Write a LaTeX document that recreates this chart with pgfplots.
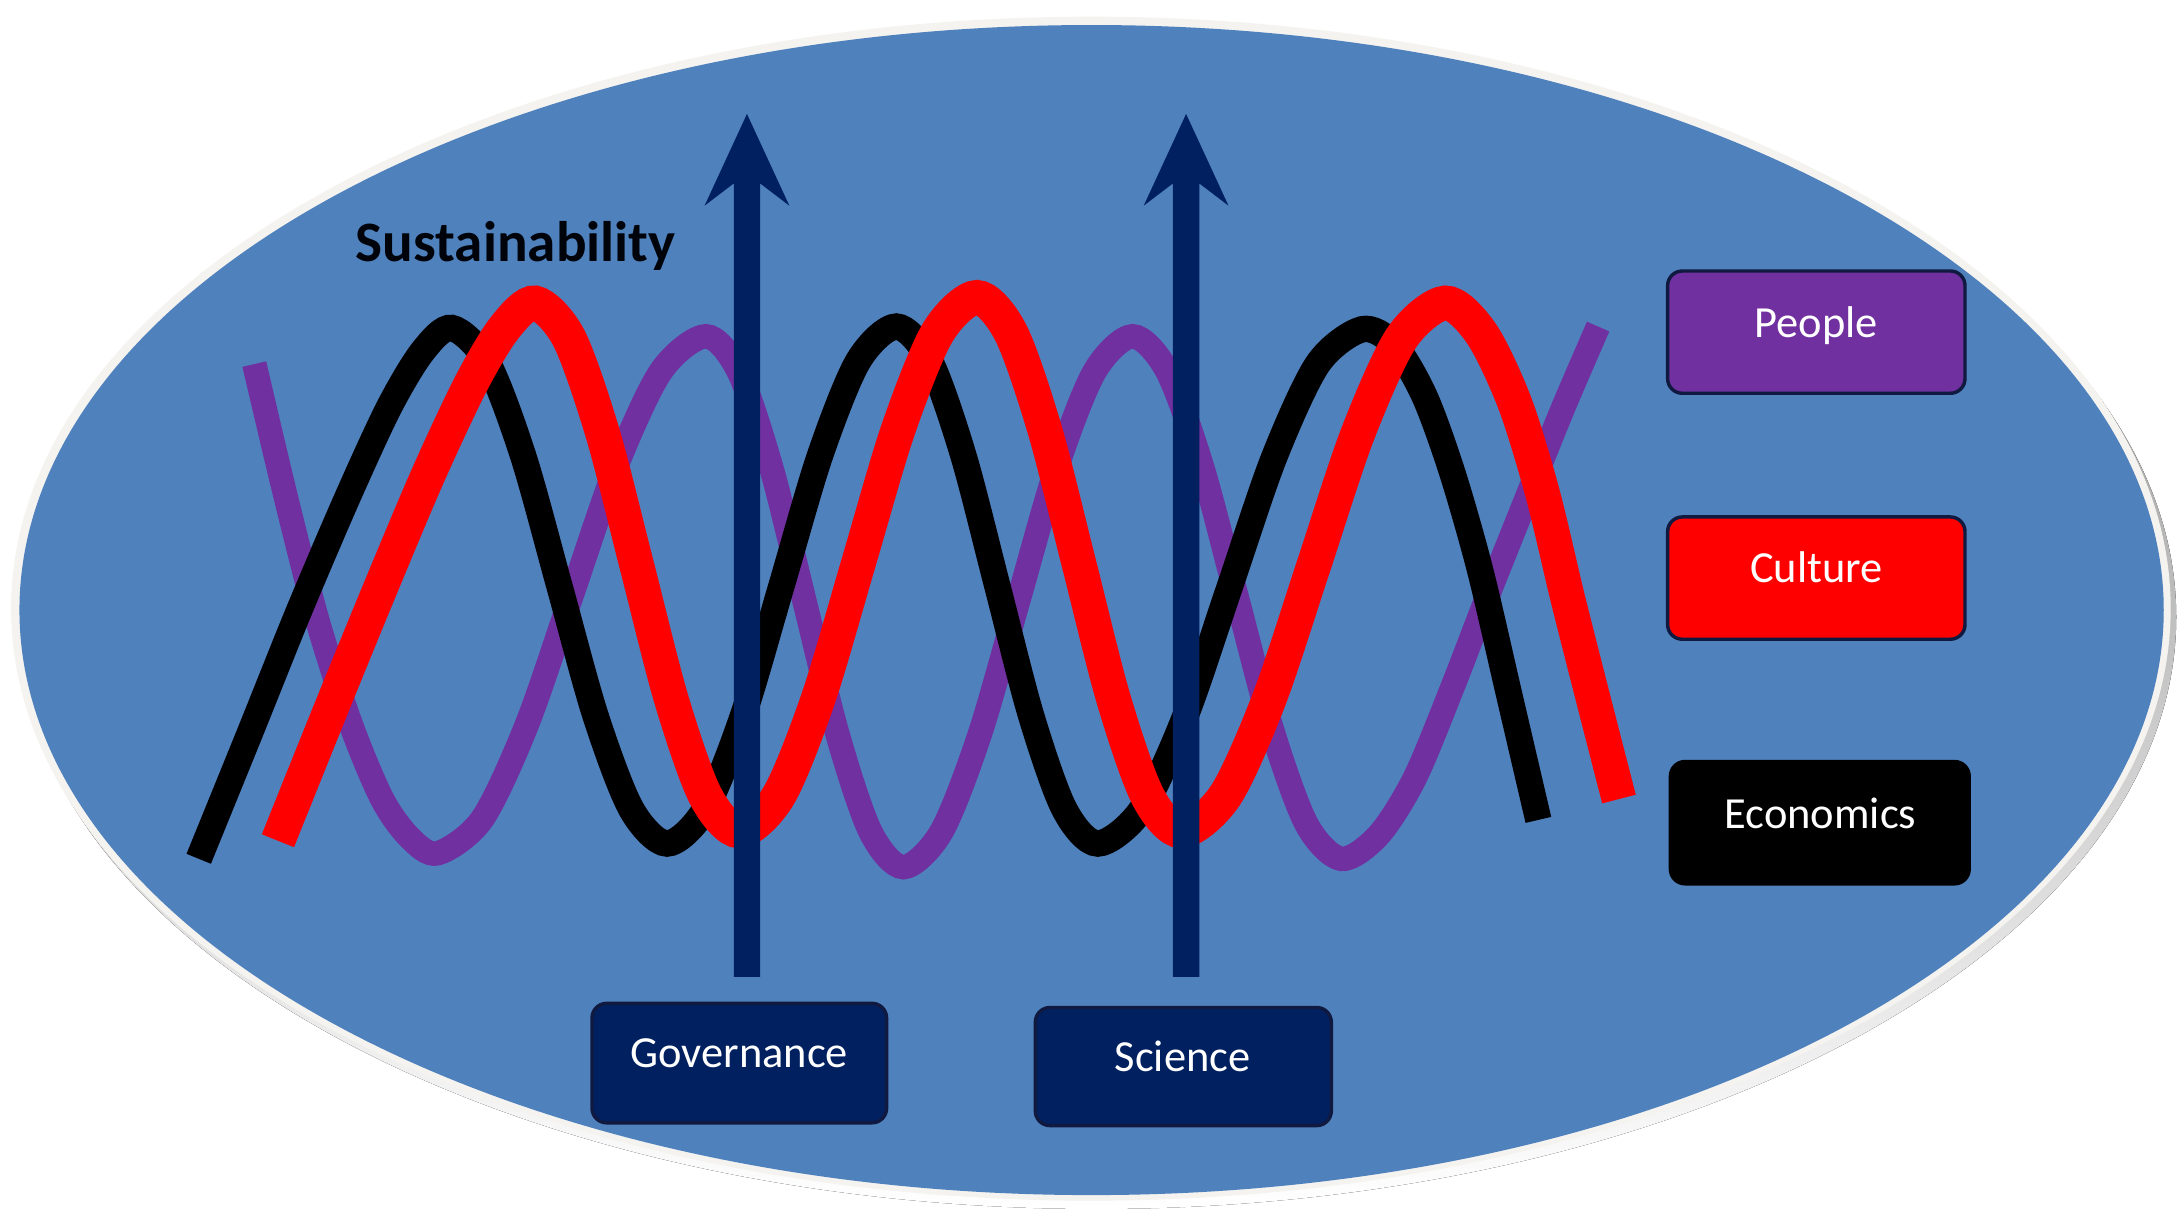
\documentclass[border=0pt]{standalone}
\usepackage{pgfplots}
\pgfplotsset{compat=1.18}
\usepackage{fontspec}
\setmainfont{Carlito}

\definecolor{bgblue}{HTML}{4F81BD}
\definecolor{ppl}{HTML}{7030A0}
\definecolor{navy}{HTML}{002060}
\definecolor{boxline}{HTML}{101A40}
\definecolor{rim}{HTML}{F4F3F0}
\definecolor{shade}{HTML}{A3ABB8}

\begin{document}
\begin{tikzpicture}
\begin{axis}[
  hide axis, scale only axis,
  width=15.68cm, height=8.80cm,
  xmin=0, xmax=1568, ymin=0, ymax=880,
  y dir=reverse,
]
% page and oval
\fill[white] (axis cs:0,0) rectangle (axis cs:1568,880);
\fill[shade] (axis cs:789,444) ellipse [x radius=777, y radius=426];
\fill[rim] (axis cs:785,438) ellipse [x radius=777, y radius=426];
\fill[bgblue] (axis cs:785.5,439) ellipse [x radius=771.5, y radius=421];

% People
\addplot[ppl, line width=5.0pt, smooth] coordinates {
(183,262) (205,355) (228,445) (252,520) (275,575) (295,603) (315,614)
(347.2,589.1) (379.3,521) (411.5,428) (443.7,335) (475.8,266.9) (508,242)
(531.7,267.6) (555.3,337.5) (579,433) (602.7,528.5) (626.3,598.4) (650,624)
(677.5,598.4) (705,528.5) (732.5,433) (760,337.5) (787.5,267.6) (815,242)
(840,267.2) (865,336) (890,430) (915,524) (940,592.8) (965,618)
(992,601) (1018,560) (1045,495) (1072,425) (1100,355) (1125,293) (1150,235)};

% Economics
\addplot[black, line width=5.4pt, smooth] coordinates {
(143,618) (180,527) (215,440) (250,358) (280,293) (304,253) (325,236)
(350.8,260.9) (376.7,328.8) (402.5,421.5) (428.3,514.3) (454.2,582.1) (480,607)
(507.5,582.1) (535,514) (562.5,421) (590,328) (617.5,259.9) (645,235)
(669.2,259.9) (693.3,328) (717.5,421) (741.7,514) (765.8,582.1) (790,607)
(821.7,582.2) (853.3,514.5) (885,422) (916.7,329.5) (948.3,261.8) (980,237)
(1003,248) (1025,285) (1045,340) (1065,410) (1086,500) (1107,590)};

% Culture
\addplot[red, line width=7.1pt, smooth] coordinates {
(200,605) (237,513) (273,425) (308,342) (339,276) (363,236) (385,218)
(409.5,243.5) (434,313) (458.5,408) (483,503) (507.5,572.5) (532,598)
(560.5,572.3) (589,502) (617.5,406) (646,310) (674.5,239.7) (703,214)
(727.5,239.7) (752,310) (776.5,406) (801,502) (825.5,572.3) (850,598)
(881.7,572.5) (913.3,503) (945,408) (976.7,313) (1008.3,243.5) (1040,218)
(1066,240) (1090,290) (1110,355) (1128,430) (1147,505) (1165,575)};

% arrows
\addplot[navy, fill=navy, draw=none] coordinates {
(528,703) (528,132) (507,148) (537.5,82) (568,148) (547,132) (547,703)} -- cycle;
\addplot[navy, fill=navy, draw=none] coordinates {
(844,703) (844,132) (823,148) (853.5,82) (884,148) (863,132) (863,703)} -- cycle;

% boxes
\draw[boxline, line width=0.7pt, fill=ppl, rounded corners=3pt] (axis cs:1200,195) rectangle (axis cs:1414,283);
\draw[boxline, line width=0.7pt, fill=red, rounded corners=3pt] (axis cs:1200,372) rectangle (axis cs:1414,460);
\draw[black, line width=0.7pt, fill=black, rounded corners=3pt] (axis cs:1202,548) rectangle (axis cs:1417,636);
\draw[boxline, line width=0.7pt, fill=navy, rounded corners=3pt] (axis cs:426,722) rectangle (axis cs:638,808);
\draw[boxline, line width=0.7pt, fill=navy, rounded corners=3pt] (axis cs:745,725) rectangle (axis cs:958,810);

\node[anchor=base, text=white, font=\fontsize{9.1}{11}\selectfont] at (axis cs:1307,243) {People};
\node[anchor=base, text=white, font=\fontsize{9.1}{11}\selectfont] at (axis cs:1307,419) {Culture};
\node[anchor=base, text=white, font=\fontsize{9.1}{11}\selectfont] at (axis cs:1310,596) {Economics};
\node[anchor=base, text=white, font=\fontsize{9.1}{11}\selectfont] at (axis cs:532,768) {Governance};
\node[anchor=base, text=white, font=\fontsize{9.1}{11}\selectfont] at (axis cs:851,771) {Science};
\node[anchor=base, text=black!90!navy, font=\fontsize{11.7}{14}\selectfont\bfseries] at (axis cs:371,188) {Sustainability};
\end{axis}
\end{tikzpicture}
\end{document}
